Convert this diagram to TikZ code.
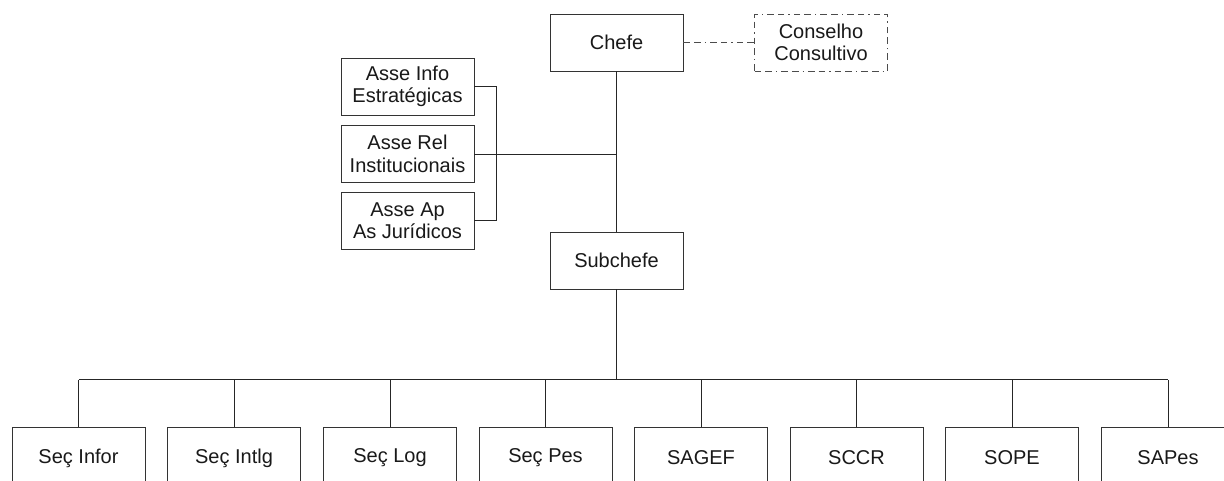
\documentclass[tikz,border=0pt]{standalone}
\usepackage{fontspec}
\setmainfont{Liberation Sans}
\begin{document}
\begin{tikzpicture}[x=0.75pt,y=-0.75pt,
  box/.style={draw=black!80,line width=0.7pt,minimum width=99.75pt,minimum height=42.75pt,inner sep=0pt,align=center,font=\fontsize{15}{16.8}\selectfont,text=black!90},
  lowbox/.style={box,minimum height=46.5pt},
  dashdot/.style={draw=black!70,dash pattern=on 5pt off 3pt on 5pt off 3pt on 1pt off 3pt},
  dbox/.style={box,dashdot},
  conn/.style={line width=0.7pt,draw=black!85}]
\useasboundingbox (0,0) rectangle (1224,481);
\fill[white] (0,0) rectangle (1224,481);
\clip (0,0) rectangle (1224,481);
\node[box] (chefe) at (616.5,42.5) {Chefe};
\node[dbox] (cons) at (821,42.5) {Conselho\\Consultivo};
\node[box] (info) at (407.5,86.5) {Asse Info\\Estratégicas};
\node[box] (rel) at (407.5,154) {Asse Rel\\Institucionais};
\node[box] (ap) at (407.5,220.5) {Asse Ap\\As Jurídicos};
\node[box] (sub) at (616.5,260.5) {Subchefe};
\node[lowbox] (b1) at (78.5,458) {Seç Infor};
\node[lowbox] (b2) at (234,458) {Seç Intlg};
\node[lowbox] (b3) at (390,458) {Seç Log};
\node[lowbox] (b4) at (545.5,458) {Seç Pes};
\node[lowbox] (b5) at (701,458) {SAGEF};
\node[lowbox] (b6) at (856.5,458) {SCCR};
\node[lowbox] (b7) at (1012,458) {SOPE};
\node[lowbox] (b8) at (1168,458) {SAPes};
\coordinate (bus) at (616.5,379.5);
\coordinate (brk) at (496,154);
\draw[conn,dashdot] (chefe.east) -- (cons.west);
\draw[conn] (chefe.south) -- (sub.north);
\draw[conn] (rel.east) -- (rel.east -| chefe.south);
\draw[conn] (info.east) -- (info.east -| brk) -- (ap.east -| brk) -- (ap.east);
\draw[conn] (sub.south) -- (bus);
\draw[conn] (b1.north |- bus) -- (b8.north |- bus);
\foreach \b in {b1,b2,b3,b4,b5,b6,b7,b8}
  \draw[conn] (\b.north) -- (\b.north |- bus);
\end{tikzpicture}
\end{document}
